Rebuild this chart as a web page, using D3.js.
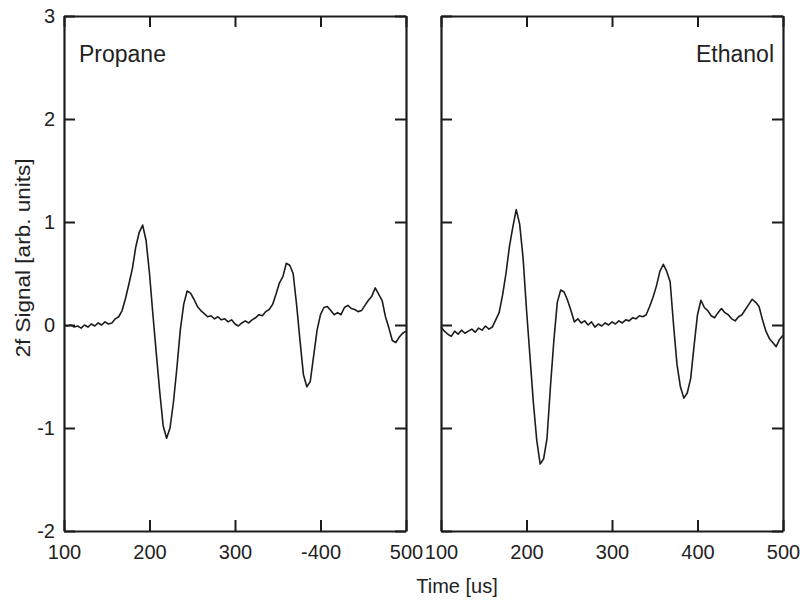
<!DOCTYPE html>
<html><head><meta charset="utf-8">
<script src="https://cdn.jsdelivr.net/npm/d3@7"></script>
<style>body{margin:0;background:#fff}svg text{font-family:"Liberation Sans",Arial,sans-serif;fill:#222}</style>
</head><body>
<svg id="c" width="807" height="601"></svg>
<script>
const time = d3.range(100, 501, 4);
const propane = [0.00,-0.01,0.00,-0.02,-0.01,-0.03,0.00,-0.02,0.01,-0.01,
0.02,0.00,0.03,0.01,0.02,0.06,0.08,0.14,0.26,0.40,
0.55,0.76,0.90,0.97,0.82,0.50,0.10,-0.28,-0.65,-0.98,
-1.10,-1.00,-0.75,-0.42,-0.05,0.20,0.33,0.31,0.25,0.18,
0.14,0.11,0.08,0.09,0.06,0.08,0.05,0.06,0.03,0.05,
0.01,-0.01,0.02,0.04,0.02,0.05,0.07,0.10,0.09,0.13,
0.15,0.20,0.30,0.41,0.47,0.60,0.58,0.50,0.20,-0.15,
-0.48,-0.60,-0.55,-0.30,-0.05,0.10,0.17,0.18,0.14,0.10,
0.12,0.10,0.17,0.19,0.16,0.15,0.13,0.14,0.19,0.24,
0.28,0.36,0.30,0.24,0.08,-0.03,-0.15,-0.17,-0.12,-0.08,
-0.06];
const ethanol = [-0.02,-0.06,-0.09,-0.11,-0.06,-0.09,-0.05,-0.08,-0.06,-0.04,
-0.07,-0.03,-0.05,-0.01,-0.04,-0.02,0.05,0.12,0.29,0.50,
0.76,0.95,1.12,0.98,0.65,0.15,-0.30,-0.75,-1.12,-1.35,
-1.30,-1.10,-0.60,-0.15,0.22,0.34,0.32,0.24,0.14,0.03,
0.06,0.02,0.04,0.00,0.03,-0.02,0.01,-0.01,0.02,0.00,
0.03,0.01,0.04,0.02,0.05,0.04,0.07,0.06,0.09,0.08,
0.10,0.18,0.27,0.38,0.52,0.59,0.52,0.42,0.00,-0.38,
-0.60,-0.71,-0.66,-0.52,-0.20,0.10,0.24,0.17,0.14,0.09,
0.07,0.12,0.16,0.12,0.10,0.06,0.04,0.08,0.10,0.15,
0.20,0.25,0.22,0.18,0.05,-0.06,-0.13,-0.17,-0.21,-0.14,
-0.10];
const xTicks = [100, 200, 300, 400, 500];
const xTickLabelsLeft = ["100", "200", "300", "-400", "500"];
const xTickLabelsRight = ["100", "200", "300", "400", "500"];
const yTicks = [-2, -1, 0, 1, 2, 3];
const yTickLabels = ["-2", "-1", "0", "1", "2", "3"];
const panelNames = ["Propane", "Ethanol"];

const svg = d3.select("#c");
const yTop = 16, yBot = 531;
const y = d3.scaleLinear().domain([-2, 3]).range([yBot, yTop]);
const panels = [
  {x0: 64, x1: 406, data: propane, name: panelNames[0], labels: xTickLabelsLeft, yLabels: true, nameAnchor: "start"},
  {x0: 441, x1: 783, data: ethanol, name: panelNames[1], labels: xTickLabelsRight, yLabels: false, nameAnchor: "end"}
];
const ink = "#1c1c1c";
const tl = 11;

panels.forEach(p => {
  const x = d3.scaleLinear().domain([100, 500]).range([p.x0, p.x1]);
  const g = svg.append("g");
  const line = d3.line().x((d, i) => x(time[i])).y(d => y(d));
  g.append("path").datum(p.data).attr("d", line)
    .attr("fill", "none").attr("stroke", ink).attr("stroke-width", 1.6).attr("stroke-linejoin", "round");
  const axB = g.append("g").attr("transform", `translate(0,${yBot})`)
    .call(d3.axisBottom(x).tickValues(xTicks).tickSizeInner(-tl).tickSizeOuter(0).tickFormat((d, i) => p.labels[i]));
  const axT = g.append("g").attr("transform", `translate(0,${yTop})`)
    .call(d3.axisTop(x).tickValues(xTicks).tickSizeInner(-tl).tickSizeOuter(0).tickFormat(""));
  const axL = g.append("g").attr("transform", `translate(${p.x0},0)`)
    .call(d3.axisLeft(y).tickValues(yTicks).tickSizeInner(-tl).tickSizeOuter(0).tickFormat((d, i) => p.yLabels ? yTickLabels[i] : ""));
  const axR = g.append("g").attr("transform", `translate(${p.x1},0)`)
    .call(d3.axisRight(y).tickValues(yTicks).tickSizeInner(-tl).tickSizeOuter(0).tickFormat(""));
  [axB, axT, axL, axR].forEach(a => {
    a.select(".domain").attr("stroke", ink).attr("stroke-width", 2.2);
    a.selectAll(".tick line").attr("stroke", ink).attr("stroke-width", 2);
    a.selectAll("text").style("font-size", "20px").attr("fill", "#222");
  });
  axB.selectAll("text").attr("dy", "0.71em").attr("y", 14);
  axL.selectAll("text").attr("x", -9);
  g.append("text").attr("x", p.nameAnchor === "start" ? p.x0 + 15 : p.x1 - 9).attr("y", 62)
    .attr("text-anchor", p.nameAnchor).style("font-size", "23px").text(p.name);
});

svg.append("text").attr("x", 457).attr("y", 593).attr("text-anchor", "middle")
  .style("font-size", "20px").text("Time [us]");
svg.append("text").attr("transform", "translate(30,258) rotate(-90)").attr("text-anchor", "middle")
  .attr("textLength", 199).attr("lengthAdjust", "spacingAndGlyphs")
  .style("font-size", "20px").text("2f Signal [arb. units]");
</script>
</body></html>
